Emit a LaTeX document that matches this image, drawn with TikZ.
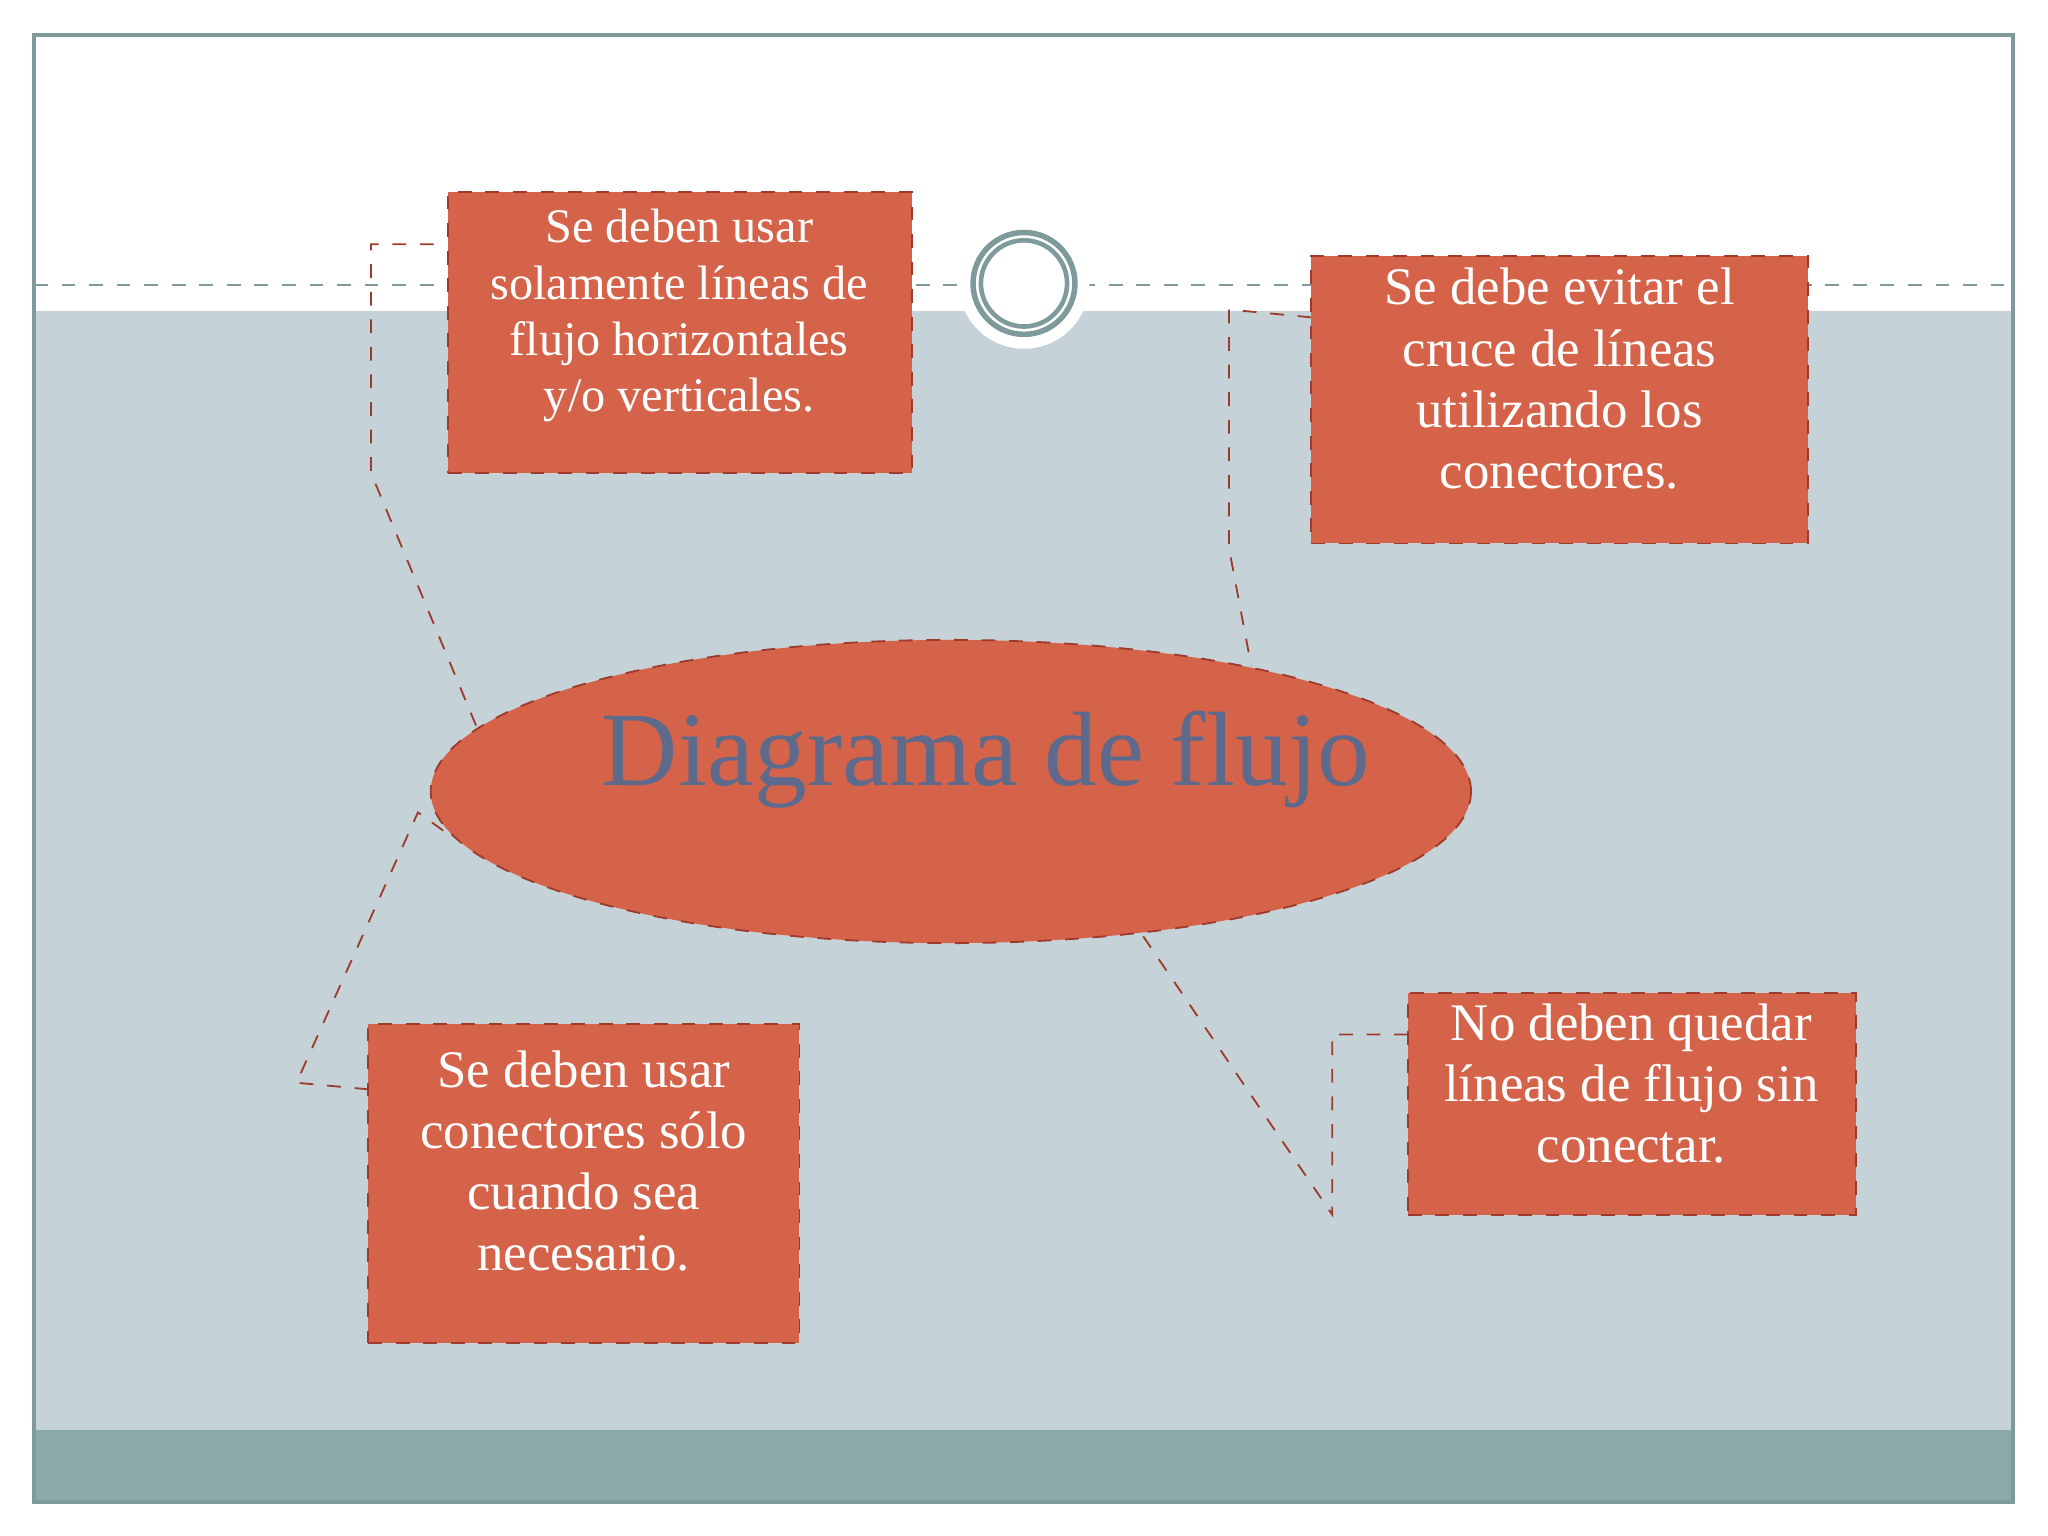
\documentclass[tikz,border=0pt]{standalone}
\usepackage{fontspec}
\setmainfont{Liberation Serif}
\usetikzlibrary{shapes.geometric}
\definecolor{bgb}{HTML}{C5D3D8}
\definecolor{band}{HTML}{8AAAA9}
\definecolor{frame}{HTML}{7F9A9A}
\definecolor{boxf}{HTML}{D4634A}
\definecolor{boxd}{HTML}{9E3B2C}
\definecolor{ttl}{HTML}{5E6A8C}
\tikzset{
 box/.style={draw=boxd,dashed,fill=boxf,text=white,align=center,inner sep=0pt},
 callout/.style={draw=boxd,dashed,thin},
}
\begin{document}
\begin{tikzpicture}[x=0.01cm,y=-0.01cm]
\useasboundingbox (0,0) rectangle (1568,1176);
\fill[white] (0,0) rectangle (1568,1176);
\fill[bgb] (26,238) rectangle (1541,1095);
\fill[band] (26,1095) rectangle (1541,1150);
\draw[frame,thick] (26,27) rectangle (1541,1150);
\draw[frame,dashed] (26,218) -- (1541,218);
\fill[white] (784,217) circle (50);
\draw[frame,line width=1.2pt] (784,217) circle (39);
\draw[frame,line width=1pt] (784,217) circle (33);
% callouts
\coordinate (a1) at (332,187); \coordinate (a2) at (284,187); \coordinate (a3) at (284,362); \coordinate (a4) at (388,612);
\draw[callout] (a1)--(a2)--(a3)--(a4);
\coordinate (b1) at (1004,243); \coordinate (b2) at (941,237); \coordinate (b3) at (941,420); \coordinate (b4) at (958,510);
\draw[callout] (b1)--(b2)--(b3)--(b4);
\coordinate (c1) at (282,834); \coordinate (c2) at (227,829); \coordinate (c3) at (320,622); \coordinate (c4) at (345,640);
\draw[callout] (c1)--(c2)--(c3)--(c4);
\coordinate (d1) at (1078,792); \coordinate (d2) at (1020,792); \coordinate (d3) at (1020,930); \coordinate (d4) at (872,712);
\draw[callout] (d1)--(d2)--(d3)--(d4);
% ellipse
\node[ellipse,draw=boxd,dashed,fill=boxf,minimum width=7.96cm,minimum height=2.32cm,inner sep=0pt] (el) at (728,606) {};
\node[text=ttl,font=\fontsize{23}{26}\selectfont] (title) at (755,582) {Diagrama de flujo};
% boxes
\node[box,minimum width=3.55cm,minimum height=2.15cm,font=\fontsize{10.5}{12.2}\selectfont] (b1n) at (520.5,254.5) {\raisebox{0pt}[0pt][0pt]{}\vspace*{0pt}};
\node[text=white,align=center,font=\fontsize{10.5}{12.2}\selectfont,anchor=north] (t1) at (520,148) {Se deben usar\\solamente líneas de\\flujo horizontales\\y/o verticales.};
\node[box,minimum width=3.80cm,minimum height=2.20cm] (b2n) at (1194,306) {};
\node[text=white,align=center,font=\fontsize{11.5}{13.3}\selectfont,anchor=north] (t2) at (1194,193) {Se debe evitar el\\cruce de líneas\\utilizando los\\conectores.};
\node[box,minimum width=3.30cm,minimum height=2.44cm] (b3n) at (447,906) {};
\node[text=white,align=center,font=\fontsize{11.5}{13.3}\selectfont,anchor=north] (t3) at (447,792) {Se deben usar\\conectores sólo\\cuando sea\\necesario.};
\node[box,minimum width=3.43cm,minimum height=1.70cm] (b4n) at (1249.5,845) {};
\node[text=white,align=center,font=\fontsize{11.5}{13.3}\selectfont,anchor=north] (t4) at (1249,756) {No deben quedar\\líneas de flujo sin\\conectar.};
\end{tikzpicture}
\end{document}
